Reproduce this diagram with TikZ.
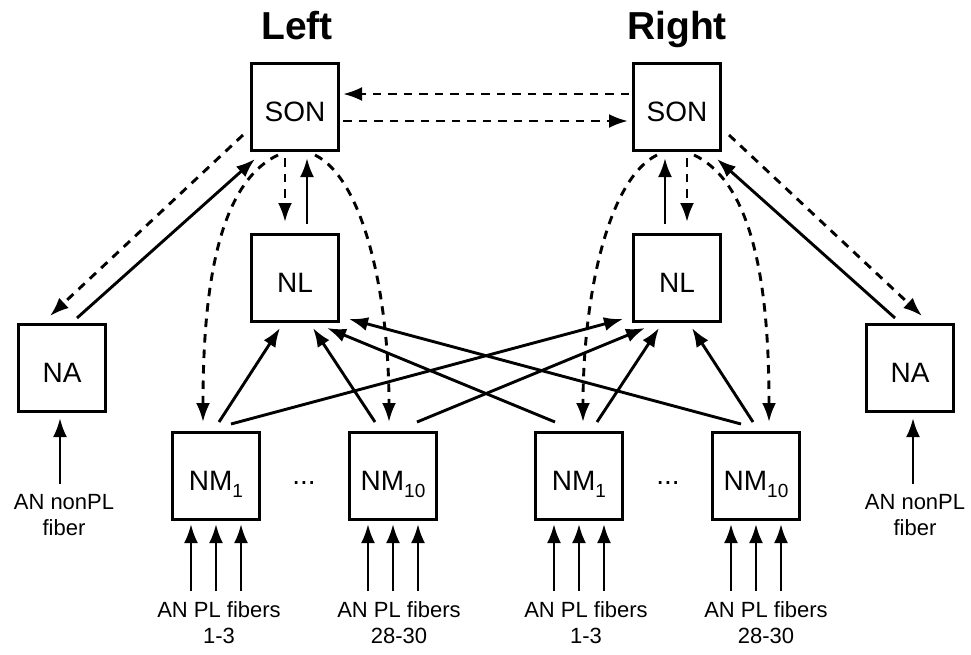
\documentclass[tikz,border=0pt]{standalone}
\usepackage{fontspec}
\setmainfont{Liberation Sans}
\usetikzlibrary{arrows.meta,calc}
\newcommand\nmsub[1]{\raisebox{-7pt}{\fontsize{19}{19}\selectfont #1}}
\begin{document}
\begin{tikzpicture}[x=1pt,y=-1pt,
  box/.style={draw, line width=3pt, minimum width=87pt, minimum height=87pt, inner sep=0pt,
    text height=28pt, text depth=0pt, font=\fontsize{28}{32}\selectfont},
  ln/.style={line width=2.9pt},
  arr/.style={-{Latex[length=19pt,width=14pt]}},
  dsh/.style={dash pattern=on 8.5pt off 7pt},
  lab/.style={anchor=north, align=center, inner sep=0pt, font=\fontsize{22}{26.5}\selectfont},
  ttl/.style={anchor=base, inner sep=0pt, font=\bfseries\fontsize{39}{46}\selectfont}]
\useasboundingbox (0,0) rectangle (971,654);

% titles
\node[ttl] (tleft) at (297,39) {Left};
\node[ttl] (tright) at (677,39) {Right};

% boxes
\node[box] (lson) at (295,107) {SON};
\node[box] (rson) at (677,107) {SON};
\node[box] (lnl) at (295,278) {NL};
\node[box] (rnl) at (677,278) {NL};
\node[box] (lna) at (62,368) {NA};
\node[box] (rna) at (910,368) {NA};
\node[box] (lnm1) at (216,476) {NM\nmsub{1}};
\node[box] (lnm10) at (393,476) {NM\nmsub{10}};
\node[box] (rnm1) at (579,476) {NM\nmsub{1}};
\node[box] (rnm10) at (756,476) {NM\nmsub{10}};

% dots
\node[anchor=base, inner sep=0pt, font=\fontsize{28}{32}\selectfont] (ldots) at (304,484) {...};
\node[anchor=base, inner sep=0pt, font=\fontsize{28}{32}\selectfont] (rdots) at (668,484) {...};

% SON <-> SON
\draw[ln,dsh,arr] ($(rson.west)+(-3,-13)$) -- ($(lson.east)+(3,-13)$);
\draw[ln,dsh,arr] ($(lson.east)+(3,14)$) -- ($(rson.west)+(-4,14)$);

% SON <-> NL
\draw[ln,dsh,arr] ($(lson.south)+(-10,6)$) -- ($(lnl.north)+(-10,-11)$);
\draw[ln,arr] ($(lnl.north)+(12,-9)$) -- ($(lson.south)+(12,6)$);
\draw[ln,dsh,arr] ($(rson.south)+(10,6)$) -- ($(rnl.north)+(10,-11)$);
\draw[ln,arr] ($(rnl.north)+(-12,-9)$) -- ($(rson.south)+(-12,6)$);

% SON <-> NA
\draw[ln,dsh,arr] ($(lson.south west)+(-7,-17)$) -- ($(lna.north)+(-12,-7)$);
\draw[ln,arr] ($(lna.north)+(15,-5)$) -- ($(lson.south west)+(5,7)$);
\draw[ln,dsh,arr] ($(rson.south east)+(7,-17)$) -- ($(rna.north)+(12,-7)$);
\draw[ln,arr] ($(rna.north)+(-15,-5)$) -- ($(rson.south east)+(-5,7)$);

% SON -> NM curved dashed
\draw[ln,dsh,arr] ($(lson.south)+(-17,3)$) .. controls +(-63,30) and +(0,-123) .. ($(lnm1.north)+(-13,-9)$);
\draw[ln,dsh,arr] ($(lson.south)+(20,3)$) .. controls +(50,25) and +(0,-123) .. ($(lnm10.north)+(-4,-9)$);
\draw[ln,dsh,arr] ($(rson.south)+(-20,3)$) .. controls +(-50,25) and +(0,-123) .. ($(rnm1.north)+(4,-9)$);
\draw[ln,dsh,arr] ($(rson.south)+(17,3)$) .. controls +(63,30) and +(0,-123) .. ($(rnm10.north)+(13,-9)$);

% NM -> NL
\draw[ln,arr] ($(lnm1.north)+(3,-9)$) -- ($(lnl.south)+(-15,5)$);
\draw[ln,arr] ($(lnm10.north)+(-18,-9)$) -- ($(lnl.south)+(18,5)$);
\draw[ln,arr] ($(lnm1.north)+(15,-7)$) -- ($(rnl.south west)+(-9,-4)$);
\draw[ln,arr] ($(lnm10.north)+(24,-9)$) -- ($(rnl.south west)+(13,5)$);
\draw[ln,arr] ($(rnm1.north)+(-24,-9)$) -- ($(lnl.south east)+(-13,5)$);
\draw[ln,arr] ($(rnm10.north)+(-15,-7)$) -- ($(lnl.south east)+(9,-4)$);
\draw[ln,arr] ($(rnm1.north)+(18,-9)$) -- ($(rnl.south)+(-18,5)$);
\draw[ln,arr] ($(rnm10.north)+(-3,-9)$) -- ($(rnl.south)+(15,5)$);

% fiber inputs
\foreach \n in {lnm1,lnm10,rnm1,rnm10}
  \foreach \dx in {-25,0,25}
    \draw[ln,arr] ($(\n.south)+(\dx,70)$) -- ($(\n.south)+(\dx,3)$);
\draw[ln,arr] ($(lna.south)+(-2,71)$) -- ($(lna.south)+(-2,5)$);
\draw[ln,arr] ($(rna.south)+(3,71)$) -- ($(rna.south)+(3,5)$);

% labels
\node[lab] (lab1) at ($(lnm1.south)+(3,80)$) {AN PL fibers\\1-3};
\node[lab] (lab2) at ($(lnm10.south)+(6,80)$) {AN PL fibers\\28-30};
\node[lab] (lab3) at ($(rnm1.south)+(7,80)$) {AN PL fibers\\1-3};
\node[lab] (lab4) at ($(rnm10.south)+(10,80)$) {AN PL fibers\\28-30};
\node[lab] (labna1) at ($(lna.south)+(2,81)$) {AN nonPL\\fiber};
\node[lab] (labna2) at ($(rna.south)+(5,81)$) {AN nonPL\\fiber};
\end{tikzpicture}
\end{document}
